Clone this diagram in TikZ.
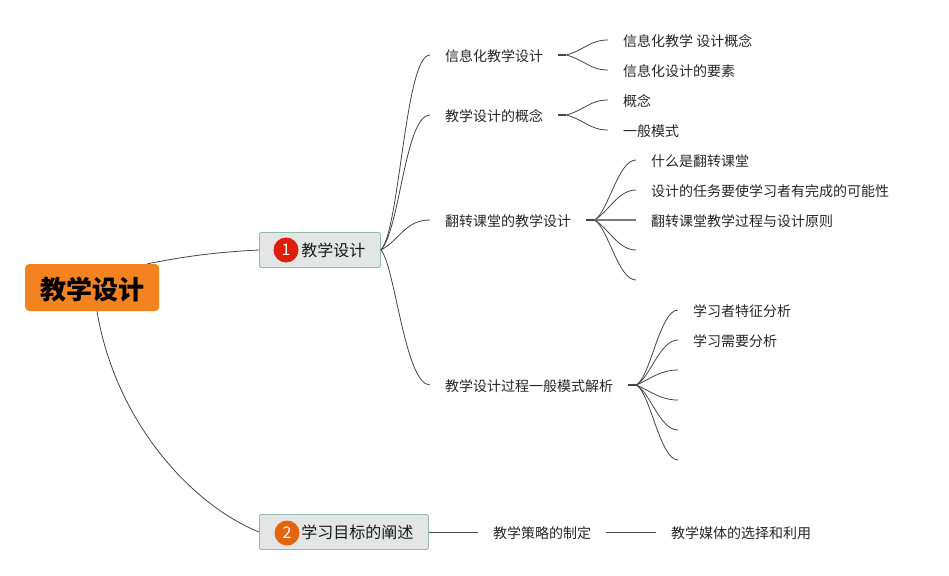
\documentclass[tikz,border=0pt]{standalone}
\usepackage{fontspec}
\setmainfont{Noto Sans CJK SC}
\definecolor{rootOrange}{HTML}{F58220}
\definecolor{boxGrey}{HTML}{E4E6E5}
\definecolor{boxEdge}{HTML}{8FBBAB}
\definecolor{badgeRed}{HTML}{DF1F0B}
\definecolor{badgeOrange}{HTML}{E5650F}
\definecolor{branchLine}{HTML}{444444}
\newcommand{\stubLen}{8}
\tikzset{
  topicText/.style={anchor=west,inner xsep=15pt,inner ysep=2pt,text height=13pt,text depth=.3pt,text=black!85,font=\fontsize{14}{16}\selectfont},
  mainBox/.style={anchor=west,draw=boxEdge,fill=boxGrey,line width=.9pt,rounded corners=2pt,minimum height=35pt,inner ysep=0pt,inner xsep=15pt,align=right,text=black!90,font=\fontsize{16}{18}\selectfont},
  badge/.style={circle,inner sep=0pt,minimum size=25pt,text=white,font=\fontsize{16}{18}\selectfont},
  branch/.style={draw=branchLine,line width=.8pt},
  stub/.style={draw=branchLine,line width=1.6pt}
}
\begin{document}
\begin{tikzpicture}[x=1pt,y=-1pt]
\useasboundingbox (0,0) rectangle (949,575);

% main topics
\node[anchor=west,fill=rootOrange,rounded corners=4pt,minimum width=134pt,minimum height=47pt,inner sep=0pt,text height=24pt,text depth=1pt,font=\fontsize{26}{30}\selectfont\bfseries] (root) at (25,287.5) {教学设计};
\node[mainBox,text width=91pt] (design) at (259,250) {教学设计};
\node[mainBox,text width=139pt] (goal) at (259,532) {学习目标的阐述};
\node[badge,fill=badgeRed] (one) at (286,250) {1};
\node[badge,fill=badgeOrange] (two) at (287,533) {2};

% first level
\node[topicText] (info) at (430,55) {信息化教学设计};
\node[topicText] (idea) at (430,115) {教学设计的概念};
\node[topicText] (flip) at (430,220) {翻转课堂的教学设计};
\node[topicText] (model) at (430,385) {教学设计过程一般模式解析};
\node[topicText] (strategy) at (478,532) {教学策略的制定};
\node[topicText] (media) at (656,532) {教学媒体的选择和利用};

% leaves
\node[topicText] (info1) at (608,40) {信息化教学 设计概念};
\node[topicText] (info2) at (608,70) {信息化设计的要素};
\node[topicText] (idea1) at (608,100) {概念};
\node[topicText] (idea2) at (608,130) {一般模式};
\node[topicText] (flip1) at (636,160) {什么是翻转课堂};
\node[topicText] (flip2) at (636,190) {设计的任务要使学习者有完成的可能性};
\node[topicText] (flip3) at (636,220) {翻转课堂教学过程与设计原则};
\coordinate (flip4) at (636,250);
\coordinate (flip5) at (636,280);
\node[topicText] (model1) at (678,310) {学习者特征分析};
\node[topicText] (model2) at (678,340) {学习需要分析};
\coordinate (model3) at (678,370);
\coordinate (model4) at (678,400);
\coordinate (model5) at (678,430);
\coordinate (model6) at (678,460);

% root to main topics
\draw[branch] ([xshift=-12pt]root.north east) .. controls +(40,-8) and +(-40,2) .. (design.west);
\draw[branch] ([xshift=72pt]root.south west) .. controls +(18,109) and +(-69,-28) .. (goal.west);

% design to first level
\draw[branch] (design.east) .. controls +(19,-20) and +(-25,0) .. (info.west);
\draw[branch] (design.east) .. controls +(19,-20) and +(-25,0) .. (idea.west);
\draw[branch] (design.east) .. controls +(19,-10) and +(-25,0) .. (flip.west);
\draw[branch] (design.east) .. controls +(14,15) and +(-25,0) .. (model.west);

% second level, each fan with its stub
\draw[stub] (info.east) -- +(\stubLen,0);
\draw[branch] ([xshift=\stubLen pt]info.east) .. controls +(18,-5) and +(-18,0) .. (info1.west);
\draw[branch] ([xshift=\stubLen pt]info.east) .. controls +(18,5) and +(-18,0) .. (info2.west);
\draw[stub] (idea.east) -- +(\stubLen,0);
\draw[branch] ([xshift=\stubLen pt]idea.east) .. controls +(18,-5) and +(-18,0) .. (idea1.west);
\draw[branch] ([xshift=\stubLen pt]idea.east) .. controls +(18,5) and +(-18,0) .. (idea2.west);
\draw[stub] (flip.east) -- +(\stubLen,0);
\draw[branch] ([xshift=\stubLen pt]flip.east) .. controls +(14,-8) and +(-18,0) .. (flip1.west);
\draw[branch] ([xshift=\stubLen pt]flip.east) .. controls +(14,-8) and +(-18,0) .. (flip2.west);
\draw[draw=branchLine!70,line width=1.3pt] ([xshift=\stubLen pt]flip.east) -- (flip3.west);
\draw[branch] ([xshift=\stubLen pt]flip.east) .. controls +(14,8) and +(-18,0) .. (flip4);
\draw[branch] ([xshift=\stubLen pt]flip.east) .. controls +(14,8) and +(-18,0) .. (flip5);
\draw[stub] (model.east) -- +(\stubLen,0);
\draw[branch] ([xshift=\stubLen pt]model.east) .. controls +(14,-8) and +(-18,0) .. (model1.west);
\draw[branch] ([xshift=\stubLen pt]model.east) .. controls +(14,-8) and +(-18,0) .. (model2.west);
\draw[branch] ([xshift=\stubLen pt]model.east) .. controls +(14,-6) and +(-18,0) .. (model3);
\draw[branch] ([xshift=\stubLen pt]model.east) .. controls +(14,6) and +(-18,0) .. (model4);
\draw[branch] ([xshift=\stubLen pt]model.east) .. controls +(14,8) and +(-18,0) .. (model5);
\draw[branch] ([xshift=\stubLen pt]model.east) .. controls +(14,8) and +(-18,0) .. (model6);

% straight links along the bottom
\draw[branch] (goal.east) -- (strategy.west);
\draw[branch] (strategy.east) -- (media.west);
\end{tikzpicture}
\end{document}
